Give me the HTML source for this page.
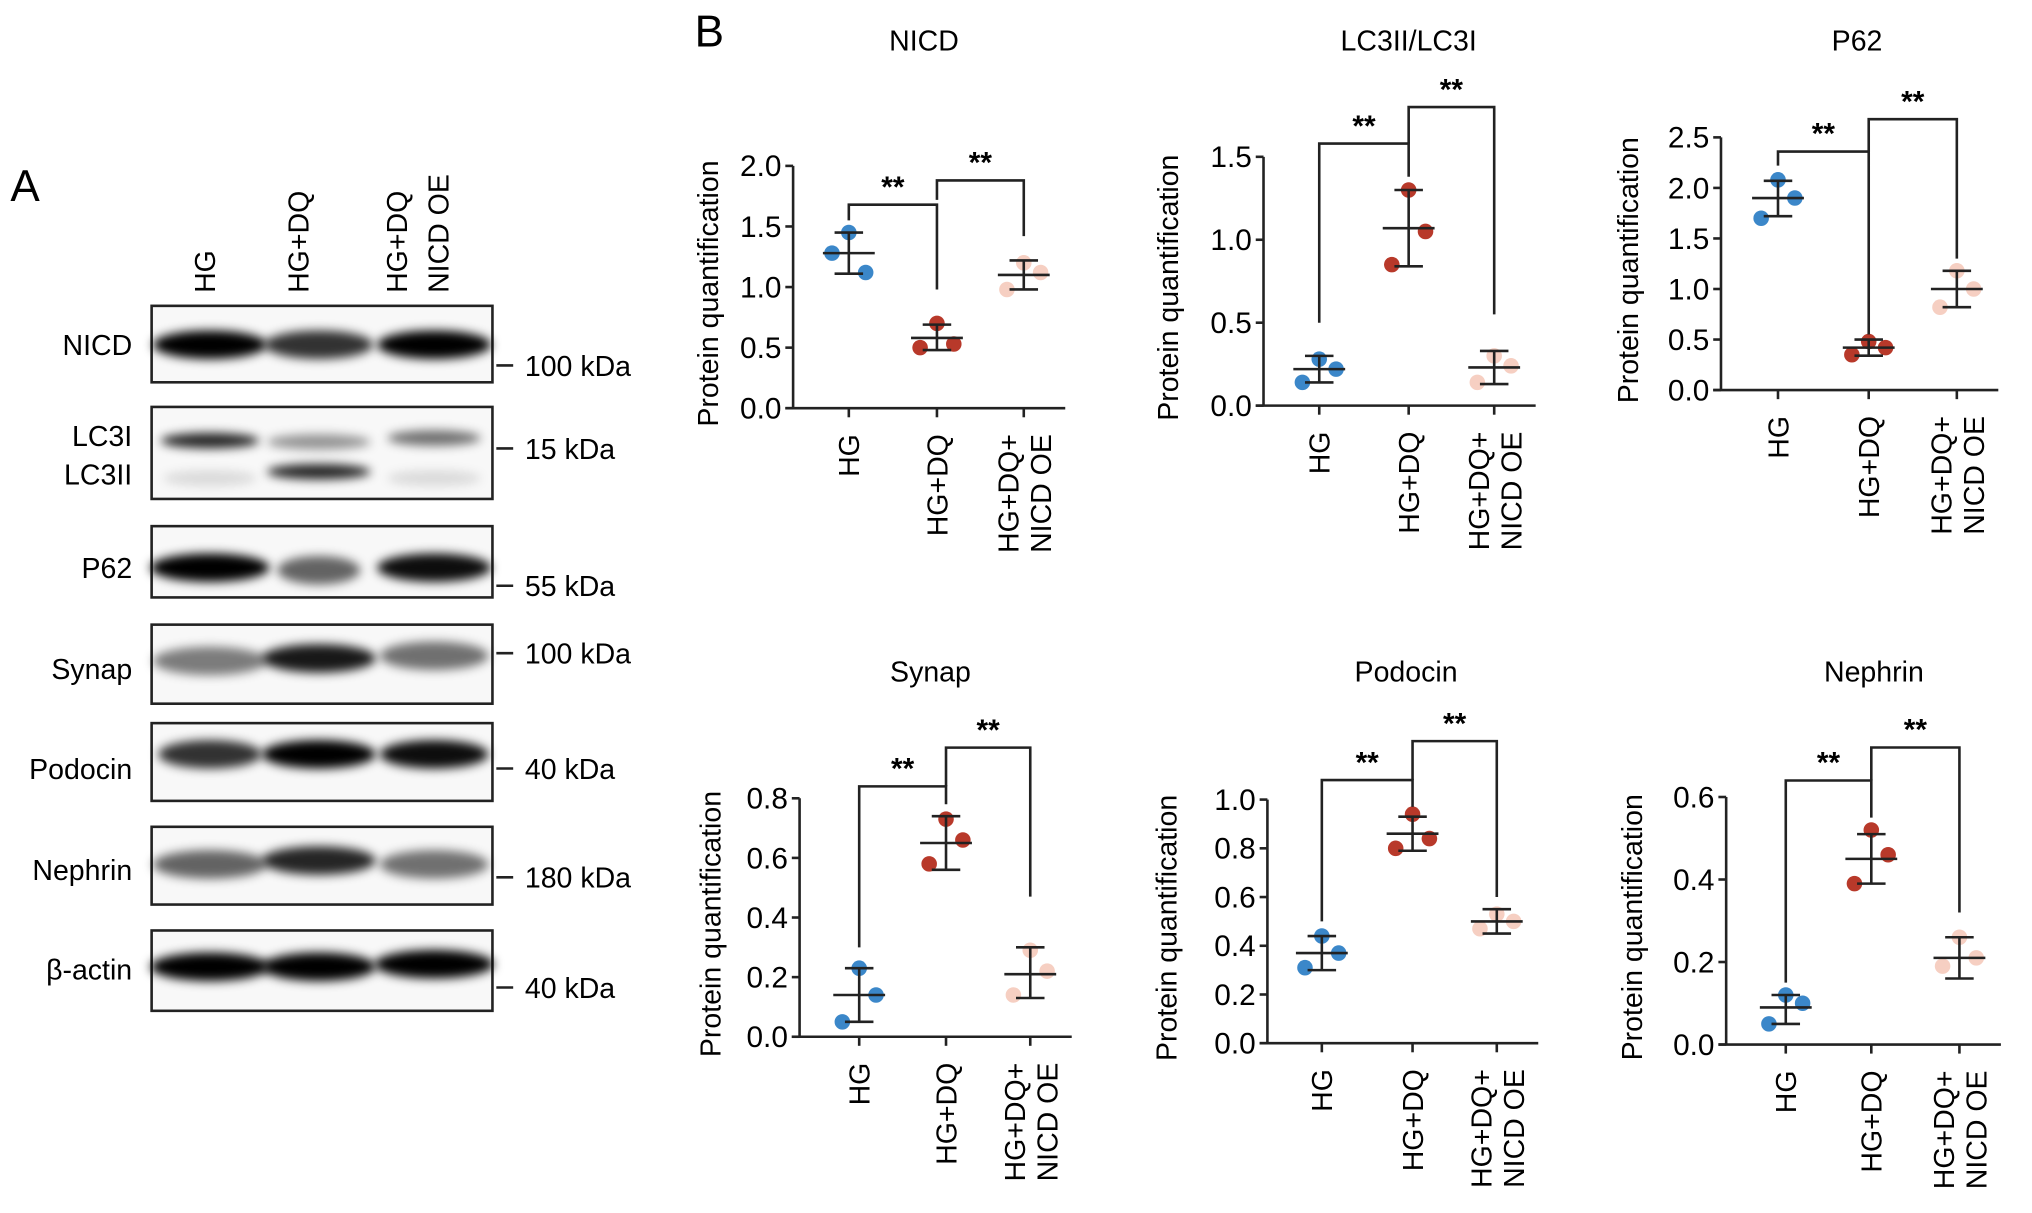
<!DOCTYPE html>
<html><head><meta charset="utf-8">
<style>
html,body{margin:0;padding:0;background:#fff;}
svg{display:block;font-family:"Liberation Sans",Arial,sans-serif;}
</style></head>
<body>
<svg id="fig" width="2032" height="1213" viewBox="0 0 1568 936" xmlns="http://www.w3.org/2000/svg">
<defs>
<filter id="blur" x="-20%" y="-100%" width="140%" height="300%"><feGaussianBlur stdDeviation="4"/></filter>
</defs>
<g id="panelA"></g>
<g id="panelB"></g>
</svg>
<script>
const NS='http://www.w3.org/2000/svg';
function mk(parent,tag,attrs,text){const e=document.createElementNS(NS,tag);for(const k in attrs)e.setAttribute(k,attrs[k]);if(text!==undefined)e.textContent=text;parent.appendChild(e);return e;}

// ---------- Panel A (blots) ----------
const A=document.getElementById('panelA');
let t=mk(A,'text',{x:8,y:155,'font-size':34},'A');


const laneLabels=[['HG',166],['HG+DQ',238],['HG+DQ',314],['NICD OE',346]];
laneLabels.forEach(l=>{const e=mk(A,'text',{x:l[1],y:226,'font-size':22,'text-anchor':'start',transform:`rotate(-90 ${l[1]} 226)`},l[0]);

});
const lanes=[162,246,335];
const blots=[
 {name:'NICD',y:236,h:59,lab:[['NICD',266]],mw:['100 kDa',282],bands:[[266,1,1.1],[266,0.8,1.05],[266,1,1.1]]},
 {name:'LC3',y:314,h:71,lab:[['LC3I',336],['LC3II',366]],mw:['15 kDa',346],bands:[[340,0.85,0.95],[341,0.4,1],[338,0.55,0.9],[369,0.12,0.9],[364,0.85,1],[369,0.12,0.9]]},
 {name:'P62',y:406,h:55,lab:[['P62',438]],mw:['55 kDa',452],bands:[[438,1,1.15],[440,0.6,0.8],[438,0.95,1.1]]},
 {name:'Synap',y:482,h:61,lab:[['Synap',516]],mw:['100 kDa',504],bands:[[510,0.5,1.1],[508,0.9,1.1],[506,0.55,1.05]]},
 {name:'Podocin',y:558,h:60,lab:[['Podocin',593]],mw:['40 kDa',593],bands:[[582,0.8,1.0],[582,1,1.1],[582,0.95,1.05]]},
 {name:'Nephrin',y:638,h:60,lab:[['Nephrin',671]],mw:['180 kDa',677],bands:[[667,0.6,1.1],[664,0.85,1.1],[667,0.55,1.05]]},
 {name:'beta-actin',y:718,h:62,lab:[['β-actin',748]],mw:['40 kDa',762],bands:[[746,1,1.15],[746,1,1.1],[744,1,1.15]]}
];
blots.forEach(b=>{
 const g=mk(A,'g',{});
 
 
 mk(g,'rect',{x:117,y:b.y,width:263,height:b.h,fill:'#f8f8f8',stroke:'#222','stroke-width':2});
 b.bands.forEach((bd,i)=>{const cx=lanes[i%3];mk(g,'ellipse',{cx:cx,cy:bd[0],rx:40*bd[2],ry:b.name==='LC3'?6:11,fill:'#000','fill-opacity':bd[1],filter:'url(#blur)'});});
 b.lab.forEach(l=>{const e=mk(g,'text',{x:102,y:l[1]+8,'font-size':22,'text-anchor':'end'},l[0]);
  
  });
 mk(g,'line',{x1:383,x2:396,y1:b.mw[1],y2:b.mw[1],stroke:'#222','stroke-width':2});
 const m=mk(g,'text',{x:405,y:b.mw[1]+8,'font-size':22},b.mw[0]);
 
 
});

// ---------- Panel B data ----------
const groups=['HG','HG+DQ','HG+DQ+ NICD OE'];
const nicdVals=[[1.45,1.28,1.12],[0.70,0.50,0.53],[1.20,0.98,1.12]];
const nicdMean=[1.28,0.58,1.10];
const nicdErr=[[1.11,1.45],[0.48,0.69],[0.98,1.22]];
const nicdTicks=['0.0','0.5','1.0','1.5','2.0'];
const lc3Vals=[[0.28,0.14,0.22],[1.30,0.85,1.05],[0.30,0.14,0.24]];
const lc3Mean=[0.22,1.07,0.23];
const lc3Err=[[0.14,0.30],[0.84,1.30],[0.13,0.33]];
const lc3Ticks=['0.0','0.5','1.0','1.5'];
const p62Vals=[[2.08,1.70,1.90],[0.48,0.35,0.42],[1.18,0.82,1.00]];
const p62Mean=[1.90,0.42,1.00];
const p62Err=[[1.72,2.07],[0.34,0.50],[0.82,1.18]];
const p62Ticks=['0.0','0.5','1.0','1.5','2.0','2.5'];
const synVals=[[0.23,0.05,0.14],[0.73,0.58,0.66],[0.29,0.14,0.22]];
const synMean=[0.14,0.65,0.21];
const synErr=[[0.05,0.23],[0.56,0.74],[0.13,0.30]];
const synTicks=['0.0','0.2','0.4','0.6','0.8'];
const podVals=[[0.44,0.31,0.37],[0.94,0.80,0.84],[0.53,0.47,0.50]];
const podMean=[0.37,0.86,0.50];
const podErr=[[0.30,0.44],[0.79,0.93],[0.45,0.55]];
const podTicks=['0.0','0.2','0.4','0.6','0.8','1.0'];
const nepVals=[[0.12,0.05,0.10],[0.52,0.39,0.46],[0.26,0.19,0.21]];
const nepMean=[0.09,0.45,0.21];
const nepErr=[[0.05,0.12],[0.39,0.51],[0.16,0.26]];
const nepTicks=['0.0','0.2','0.4','0.6'];
// brackets: [y, leftEndY, rightEndY]
const nicdBr=[[1.68,1.55,0.98],[1.88,1.72,1.42]];
const lc3Br=[[1.58,0.5,1.38],[1.80,1.58,0.55]];
const p62Br=[[2.36,2.22,0.55],[2.68,2.36,1.30]];
const synBr=[[0.84,0.30,0.78],[0.97,0.84,0.47]];
const podBr=[[1.08,0.50,0.97],[1.24,1.08,0.60]];
const nepBr=[[0.64,0.15,0.55],[0.72,0.64,0.32]];

const colors=['#3b87c9','#b8392a','#f6cfc2'];
const jitter=[0,-13,13];

const charts=[
 {id:'nicd',title:'NICD',ax:612,y0:315,yTop:128,max:2.0,cx:[655,723,790],tx:713,ty:39,lx:554,vals:nicdVals,mean:nicdMean,err:nicdErr,ticks:nicdTicks,br:nicdBr},
 {id:'lc3',title:'LC3II/LC3I',ax:975,y0:313,yTop:121,max:1.5,cx:[1018,1087,1153],tx:1087,ty:39,lx:909,vals:lc3Vals,mean:lc3Mean,err:lc3Err,ticks:lc3Ticks,br:lc3Br},
 {id:'p62',title:'P62',ax:1328,y0:301,yTop:106,max:2.5,cx:[1372,1442,1510],tx:1433,ty:39,lx:1264,vals:p62Vals,mean:p62Mean,err:p62Err,ticks:p62Ticks,br:p62Br},
 {id:'synap',title:'Synap',ax:617,y0:800,yTop:616,max:0.8,cx:[663,730,795],tx:718,ty:526,lx:556,vals:synVals,mean:synMean,err:synErr,ticks:synTicks,br:synBr},
 {id:'podocin',title:'Podocin',ax:978,y0:805,yTop:617,max:1.0,cx:[1020,1090,1155],tx:1085,ty:526,lx:908,vals:podVals,mean:podMean,err:podErr,ticks:podTicks,br:podBr},
 {id:'nephrin',title:'Nephrin',ax:1332,y0:806,yTop:615,max:0.6,cx:[1378,1444,1512],tx:1446,ty:526,lx:1267,vals:nepVals,mean:nepMean,err:nepErr,ticks:nepTicks,br:nepBr}
];
const B=document.getElementById('panelB');
t=mk(B,'text',{x:536,y:36,'font-size':34},'B');



charts.forEach(c=>{
 const g=mk(B,'g',{});
 
 
 const y=v=>c.y0-(v/c.max)*(c.y0-c.yTop);
 const st={stroke:'#222','stroke-width':2,fill:'none'};
 const title=mk(g,'text',{x:c.tx,y:c.ty,'font-size':22,'text-anchor':'middle'},c.title);
 
 
 const cy=(c.y0+c.yTop)/2+5;
 const yl=mk(g,'text',{x:c.lx,y:cy,'font-size':22,'text-anchor':'middle',transform:`rotate(-90 ${c.lx} ${cy})`},'Protein quantification');
 
 
 const ya=mk(g,'line',Object.assign({x1:c.ax,x2:c.ax,y1:c.y0,y2:c.yTop},st));
 
 
 const xa=mk(g,'line',Object.assign({x1:c.ax-6,x2:c.cx[2]+32,y1:c.y0,y2:c.y0},st));
 
 
 c.ticks.forEach(tk=>{const v=parseFloat(tk);const yy=y(v);
  mk(g,'line',Object.assign({x1:c.ax-6,x2:c.ax,y1:yy,y2:yy},st));
  const e=mk(g,'text',{x:c.ax-9,y:yy+8,'font-size':23,'text-anchor':'end'},tk);
  
  });
 groups.forEach((gr,i)=>{
  const x=c.cx[i];
  mk(g,'line',Object.assign({x1:x,x2:x,y1:c.y0,y2:c.y0+7},st));
  const parts=gr.split(' ');
  if(parts.length===1){
   const e=mk(g,'text',{x:x+8,y:c.y0+20,'font-size':22,'text-anchor':'end',transform:`rotate(-90 ${x+8} ${c.y0+20})`},gr);
   
   
  } else {
   [[parts[0],x-4],['NICD OE',x+21]].forEach(p=>{const e=mk(g,'text',{x:p[1],y:c.y0+20,'font-size':22,'text-anchor':'end',transform:`rotate(-90 ${p[1]} ${c.y0+20})`},p[0]);
    
    });
  }
  c.vals[i].forEach((v,j)=>{const p=mk(g,'circle',{cx:x+jitter[j],cy:y(v),r:6,fill:colors[i]});
   
   });
  const eg=mk(g,'g',{});
  
  
  mk(eg,'line',Object.assign({x1:x-20,x2:x+20,y1:y(c.mean[i]),y2:y(c.mean[i])},st));
  mk(eg,'line',Object.assign({x1:x,x2:x,y1:y(c.err[i][0]),y2:y(c.err[i][1])},st));
  mk(eg,'line',Object.assign({x1:x-11,x2:x+11,y1:y(c.err[i][0]),y2:y(c.err[i][0])},st));
  mk(eg,'line',Object.assign({x1:x-11,x2:x+11,y1:y(c.err[i][1]),y2:y(c.err[i][1])},st));
 });
 c.br.forEach((b,k)=>{const xl=c.cx[k],xr=c.cx[k+1];
  const p=mk(g,'path',Object.assign({d:`M${xl} ${y(b[1])} V${y(b[0])} H${xr} V${y(b[2])}`},st));
  
  
  const s=mk(g,'text',{x:(xl+xr)/2,y:y(b[0])-6,'font-size':23,'font-weight':'bold','text-anchor':'middle'},'**');
  
  
 });
});
</script>
</body></html>
